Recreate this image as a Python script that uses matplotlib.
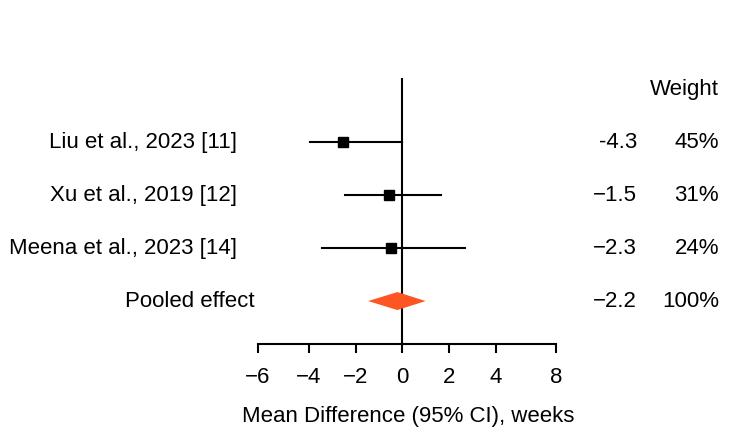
import matplotlib.pyplot as plt
from matplotlib.patches import Polygon

# ----------- data -------------
studies    = ['Liu et al., 2023 [11]', 'Xu et al., 2019 [12]', 'Meena et al., 2023 [14]']
point_est  = [-2.53, -0.57, -0.47]
ci_low     = [-3.95, -2.45, -3.43]
ci_high    = [0.0, 1.64, 2.69]
md_text    = ['-4.3', '−1.5', '−2.3']
weights    = ['45%', '31%', '24%']

pooled_label = 'Pooled effect'
pooled_est   = -0.21
pooled_low   = -1.46
pooled_high  = 1.0
pooled_md    = '−2.2'
pooled_w     = '100%'

tick_pos    = [-6.2, -4, -2, 0, 2, 4, 6.6]
tick_labels = ['−6', '−4', '−2', '0', '2', '4', '8']

# ----------- figure -------------
plt.rcParams['font.family'] = ['Liberation Sans', 'DejaVu Sans']
fs = 16

fig = plt.figure(figsize=(7.5, 4.41), dpi=100)
ax = fig.add_axes([0.334, 0.22, 0.4203, 0.6032])
ax.set_xlim(-6.5, 7)
ax.set_ylim(3.81, -1.21)

# ----------- studies -------------
for i, name in enumerate(studies):
    ax.plot([ci_low[i], ci_high[i]], [i, i], color='black', lw=1.5, zorder=3)
    ax.plot(point_est[i], i, 's', color='black', markersize=7.5, zorder=4)

# ----------- pooled diamond -------------
yp = len(studies)
h = 0.17
diamond = Polygon([(pooled_low, yp), (pooled_est, yp - h), (pooled_high, yp), (pooled_est, yp + h)],
                  closed=True, facecolor='#fe5622', edgecolor='none', zorder=2)
ax.add_patch(diamond)

# ----------- zero line -------------
ax.axvline(0, color='black', lw=1.5, zorder=1)

# ----------- axes styling -------------
for s in ['top', 'right', 'left']:
    ax.spines[s].set_visible(False)
ax.spines['bottom'].set_linewidth(1.5)
ax.spines['bottom'].set_bounds(tick_pos[0], tick_pos[-1])
ax.set_yticks([])
ax.set_xticks(tick_pos)
ax.set_xticklabels(tick_labels, fontsize=fs)
ax.tick_params(axis='x', length=6.5, width=1.5, pad=10)
ax.set_xlabel('Mean Difference (95% CI), weeks', fontsize=fs, labelpad=13)

# ----------- text columns -------------
tr = ax.get_yaxis_transform()
for i, name in enumerate(studies):
    ax.text(-0.043, i, name, transform=tr, ha='right', va='center', fontsize=fs)
    ax.text(1.226, i, md_text[i], transform=tr, ha='right', va='center', fontsize=fs)
    ax.text(1.486, i, weights[i], transform=tr, ha='right', va='center', fontsize=fs)

ax.text(0.014, yp, pooled_label, transform=tr, ha='right', va='center', fontsize=fs)
ax.text(1.226, yp, pooled_md, transform=tr, ha='right', va='center', fontsize=fs)
ax.text(1.486, yp, pooled_w, transform=tr, ha='right', va='center', fontsize=fs)
ax.text(1.486, -1.0, 'Weight', transform=tr, ha='right', va='center', fontsize=fs)

fig.savefig('out.png', dpi=100)
